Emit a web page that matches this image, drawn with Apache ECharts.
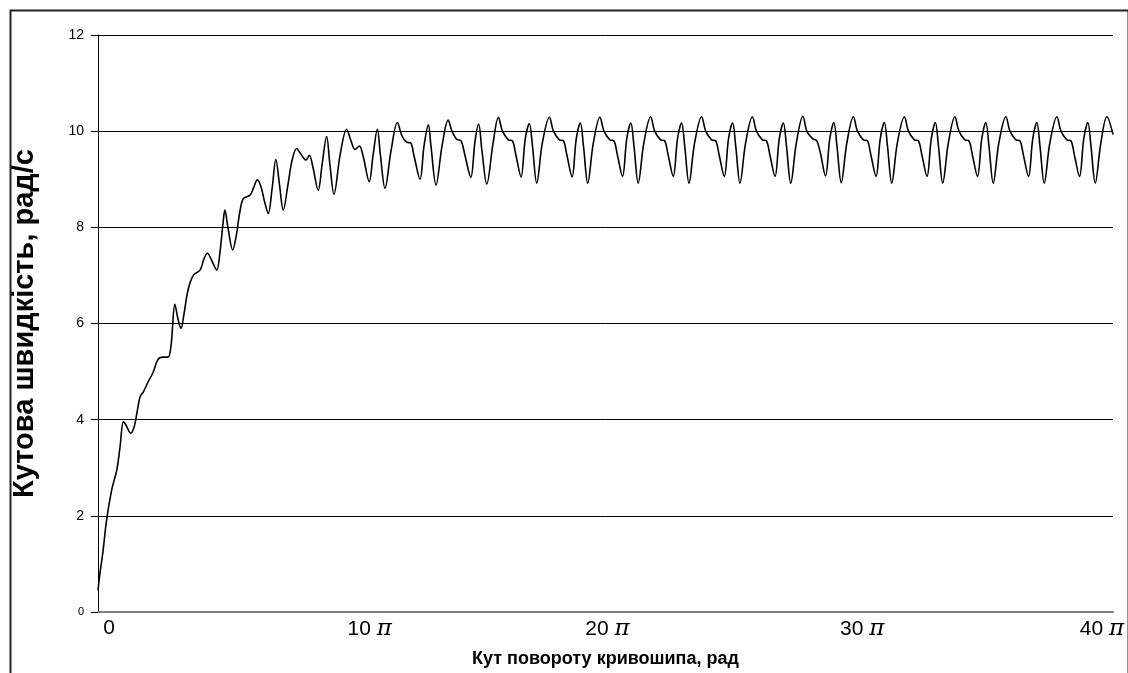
<!DOCTYPE html>
<html>
<head>
<meta charset="utf-8">
<script src="https://cdn.jsdelivr.net/npm/echarts@6/dist/echarts.min.js"></script>
<style>html,body{margin:0;padding:0;background:#fff;overflow:hidden;}#c{width:1128px;height:673px;}</style>
</head>
<body>
<div id="c"></div>
<script>
// crank angle, in units of pi
const angleX = [
  0.00, 0.08, 0.19, 0.34, 0.54, 0.74, 0.87, 1.00, 1.10, 1.29, 1.43, 1.53, 1.66, 1.79, 1.98,
  2.17, 2.36, 2.56, 2.76, 2.88, 3.03, 3.15, 3.27, 3.39, 3.51, 3.63, 3.78, 4.02, 4.18, 4.31,
  4.49, 4.68, 4.81, 4.93, 5.00, 5.12, 5.31, 5.44, 5.60, 5.73, 5.99, 6.13, 6.28, 6.42, 6.58,
  6.71, 6.86, 7.01, 7.15, 7.30, 7.49, 7.65, 7.83, 8.00, 8.20, 8.33, 8.47, 8.68, 8.83, 9.01,
  9.14, 9.30, 9.54, 9.80, 9.97, 10.13, 10.30, 10.44, 10.69, 10.84, 11.01, 11.13, 11.31, 11.55,
  11.80, 11.98, 12.17, 12.33, 12.45, 12.69, 12.85, 13.02, 13.12, 13.32, 13.56, 13.80, 13.95,
  14.14, 14.31, 14.46, 14.69, 14.86, 15.00, 15.13, 15.32, 15.57, 15.78,
  15.94, 16.17, 16.33, 16.47, 16.67, 16.84, 17.00, 17.12, 17.29, 17.51, 17.79,
  17.95, 18.18, 18.34, 18.48, 18.68, 18.85, 19.01, 19.13, 19.30, 19.52, 19.78,
  19.94, 20.17, 20.33, 20.47, 20.67, 20.84, 21.00, 21.12, 21.29, 21.51, 21.78,
  21.94, 22.17, 22.33, 22.47, 22.67, 22.84, 23.00, 23.12, 23.29, 23.51, 23.79,
  23.95, 24.18, 24.34, 24.48, 24.68, 24.85, 25.01, 25.13, 25.30, 25.52, 25.79,
  25.95, 26.18, 26.34, 26.48, 26.68, 26.85, 27.01, 27.13, 27.30, 27.52, 27.78,
  27.94, 28.17, 28.33, 28.47, 28.67, 28.84, 29.00, 29.12, 29.29, 29.51, 29.77,
  29.93, 30.16, 30.32, 30.46, 30.66, 30.83, 30.99, 31.11, 31.28, 31.50, 31.78,
  31.94, 32.17, 32.33, 32.47, 32.67, 32.84, 33.00, 33.12, 33.29, 33.51, 33.77,
  33.93, 34.16, 34.32, 34.46, 34.66, 34.83, 34.99, 35.11, 35.28, 35.50, 35.78,
  35.94, 36.17, 36.33, 36.47, 36.67, 36.84, 37.00, 37.12, 37.29, 37.51, 37.79,
  37.95, 38.18, 38.34, 38.48, 38.68, 38.85, 39.01, 39.13, 39.30, 39.52, 39.76,
  40.00
];
// angular velocity, rad/s
const omega = [
  0.45, 0.82, 1.23, 1.92, 2.54, 2.95, 3.44, 3.96, 3.89, 3.72, 3.86, 4.13, 4.48, 4.58, 4.79,
  4.98, 5.25, 5.30, 5.30, 5.55, 6.40, 6.10, 5.90, 6.20, 6.60, 6.85, 7.02, 7.11, 7.35, 7.46,
  7.30, 7.11, 7.50, 8.10, 8.36, 8.00, 7.53, 7.80, 8.35, 8.60, 8.67, 8.82, 8.99, 8.85, 8.50,
  8.29, 8.80, 9.41, 8.90, 8.36, 8.90, 9.40, 9.64, 9.52, 9.40, 9.50, 9.25, 8.77, 9.30, 9.89,
  9.30, 8.69, 9.50, 10.04, 9.80, 9.62, 9.69, 9.50, 8.95, 9.50, 10.04, 9.50, 8.81, 9.60,
  10.18, 9.90, 9.77, 9.75, 9.50, 9.00, 9.70, 10.13, 9.70, 8.88, 9.70, 10.23, 10.00,
  9.83, 9.80, 9.50, 9.04, 9.80, 10.15, 9.60, 8.90, 9.75, 10.29,
  10.00, 9.82, 9.80, 9.50, 9.05, 9.85, 10.16, 9.70, 8.92, 9.75, 10.29,
  10.00, 9.82, 9.80, 9.50, 9.05, 9.85, 10.17, 9.70, 8.92, 9.75, 10.29,
  10.00, 9.82, 9.80, 9.50, 9.06, 9.85, 10.17, 9.70, 8.92, 9.75, 10.30,
  10.00, 9.82, 9.80, 9.50, 9.06, 9.85, 10.17, 9.70, 8.92, 9.75, 10.30,
  10.00, 9.82, 9.80, 9.50, 9.06, 9.85, 10.17, 9.70, 8.92, 9.75, 10.30,
  10.00, 9.82, 9.80, 9.50, 9.06, 9.85, 10.17, 9.70, 8.92, 9.75, 10.31,
  9.99, 9.84, 9.80, 9.54, 9.07, 9.85, 10.18, 9.70, 8.93, 9.75, 10.30,
  10.00, 9.82, 9.80, 9.50, 9.06, 9.85, 10.18, 9.70, 8.92, 9.75, 10.30,
  10.00, 9.82, 9.80, 9.50, 9.06, 9.85, 10.18, 9.70, 8.92, 9.75, 10.30,
  10.00, 9.82, 9.80, 9.50, 9.06, 9.85, 10.18, 9.70, 8.92, 9.75, 10.30,
  10.00, 9.82, 9.80, 9.50, 9.06, 9.85, 10.18, 9.70, 8.92, 9.75, 10.30,
  10.00, 9.82, 9.80, 9.50, 9.06, 9.85, 10.18, 9.70, 8.92, 9.75, 10.30,
  9.93
];
const xTicks = [0, 10, 20, 30, 40];
const yTicks = [0, 2, 4, 6, 8, 10, 12];
const xTitle = 'Кут повороту кривошипа, рад';
const yTitle = 'Кутова швидкість, рад/с';

// label nudges (px) to match the hand-placed labels of the original
const labelShift = {0: 11, 10: 18, 20: 2, 30: 3, 40: -11};

const FONT = 'Arial, "Liberation Sans", sans-serif';
const PI_FONT = '"DejaVu Serif", "Liberation Serif", serif';
const rich = {};
xTicks.forEach(v => {
  const s = labelShift[v];
  rich['n' + v] = {fontFamily: FONT, fontSize: 21, color: '#000', padding: [0, 0, 0, s > 0 ? 2 * s : 0]};
  rich['p' + v] = {fontFamily: PI_FONT, fontStyle: 'italic', fontSize: 23, color: '#000', padding: [0, s < 0 ? -2 * s : 0, 0, 0]};
});

const chart = echarts.init(document.getElementById('c'), null, {renderer: 'canvas'});
const pts = angleX.map((x, i) => [x, omega[i]]);
chart.setOption({
  animation: false,
  backgroundColor: '#fff',
  grid: {left: 98, right: 15, top: 35, bottom: 61, containLabel: false},
  xAxis: {
    type: 'value', min: 0, max: 40, interval: 10,
    name: xTitle, nameLocation: 'middle', nameGap: 38,
    nameTextStyle: {fontFamily: FONT, fontWeight: 'bold', fontSize: 18, color: '#000'},
    axisLine: {show: true, onZero: false, lineStyle: {color: '#808080', width: 2}},
    axisTick: {show: false},
    splitLine: {show: false},
    axisLabel: {
      margin: 6, color: '#000',
      customValues: xTicks,
      formatter: v => v === 0 ? '{n0|0}' : '{n' + v + '|' + v + ' }{p' + v + '|π}',
      rich: rich
    }
  },
  yAxis: {
    type: 'value', min: 0, max: 12, interval: 2,
    name: yTitle, nameLocation: 'middle', nameGap: 59, nameRotate: 90,
    nameTextStyle: {fontFamily: FONT, fontWeight: 'bold', fontSize: 29, color: '#000'},
    axisLine: {show: true, lineStyle: {color: '#000', width: 1}},
    axisTick: {show: true, inside: false, length: 7, lineStyle: {color: '#000'}},
    splitLine: {show: true, lineStyle: {color: ['#808080', '#000', '#000', '#000', '#000', '#000', '#000'], width: 1}},
    axisLabel: {
      margin: 14, color: '#000', fontFamily: FONT, fontSize: 14,
      customValues: yTicks,
      formatter: v => v === 0 ? '{s|0}' : String(v),
      rich: {s: {fontFamily: FONT, fontSize: 11, color: '#000'}}
    }
  },
  series: [{
    type: 'line', data: pts, showSymbol: false, smooth: 0.35,
    lineStyle: {color: '#000', width: 1.6}, clip: true
  }],
  graphic: [{
    type: 'rect', left: 8, top: 8, silent: true, z: 100,
    shape: {x: 0, y: 0, width: 1118, height: 720},
    style: {fill: 'none', stroke: '#222', lineWidth: 2}
  }]
});
</script>
</body>
</html>
